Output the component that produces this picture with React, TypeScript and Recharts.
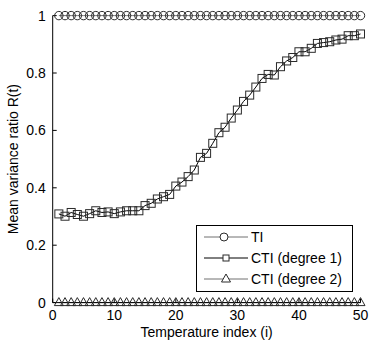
import { LineChart, Line, XAxis, YAxis, Legend } from 'recharts'

const index = Array.from({ length: 50 }, (_, k) => k + 1)
const tiValues = index.map(() => 1)
const cti1Values = [
  0.309, 0.301, 0.314, 0.307, 0.301, 0.310, 0.320, 0.314, 0.316, 0.310,
  0.316, 0.320, 0.320, 0.320, 0.338, 0.346, 0.361, 0.369, 0.377, 0.406,
  0.420, 0.439, 0.462, 0.506, 0.520, 0.555, 0.592, 0.611, 0.643, 0.671,
  0.701, 0.723, 0.751, 0.781, 0.795, 0.793, 0.822, 0.842, 0.854, 0.874,
  0.874, 0.886, 0.903, 0.906, 0.909, 0.915, 0.918, 0.930, 0.930, 0.936,
]
const cti2Values = index.map(() => 0)
const xTicks = [0, 10, 20, 30, 40, 50]
const yTicks = [0, 0.2, 0.4, 0.6, 0.8, 1]

const data = index.map((i, k) => ({
  i,
  ti: tiValues[k],
  cti1: cti1Values[k],
  cti2: cti2Values[k],
}))

const FONT = '"Liberation Sans", Arial, sans-serif'
const MARK = '#2a2a2a'

function circleDot(props: any) {
  const { cx, cy, index: k } = props
  return <circle key={`c-${k}`} cx={cx} cy={cy} r={4.2} fill="none" stroke={MARK} strokeWidth={1} />
}

function squareDot(props: any) {
  const { cx, cy, index: k } = props
  return <rect key={`s-${k}`} x={cx - 4} y={cy - 4} width={8} height={8} fill="none" stroke={MARK} strokeWidth={1} />
}

function triangleDot(props: any) {
  const { cx, cy, index: k } = props
  return (
    <polygon
      key={`t-${k}`}
      points={`${cx},${cy - 5} ${cx - 4.5},${cy + 3} ${cx + 4.5},${cy + 3}`}
      fill="none"
      stroke={MARK}
      strokeWidth={1}
    />
  )
}

// y label drawn by hand so it stays centred on the plot
function YLabel(props: any) {
  const { viewBox } = props
  const cx = 13
  const cy = viewBox.y + viewBox.height / 2
  return (
    <text x={cx} y={cy} transform={`rotate(-90, ${cx}, ${cy})`} textAnchor="middle" dominantBaseline="central" fill="#000" fontSize={14} fontFamily={FONT}>
      Mean variance ratio R(t)
    </text>
  )
}

const legendRows = [
  { label: 'TI', color: '#707070', mark: 'circle' },
  { label: 'CTI (degree 1)', color: '#000', mark: 'square' },
  { label: 'CTI (degree 2)', color: '#707070', mark: 'triangle' },
]

function PlotLegend() {
  return (
    <div style={{ width: 157, height: 67, border: '1px solid #000', background: '#fff', boxSizing: 'border-box', fontFamily: FONT, fontSize: 14 }}>
      {legendRows.map((row, k) => (
        <div key={row.label} style={{ position: 'absolute', left: 0, top: 2 + k * 21, height: 20, display: 'flex', alignItems: 'center' }}>
          <svg width={55} height={20}>
            <line x1={8} y1={10} x2={52} y2={10} stroke={row.color} strokeWidth={1} />
            {row.mark === 'circle' && <circle cx={28} cy={10} r={4} fill="#fff" stroke={MARK} />}
            {row.mark === 'square' && <rect x={27} y={7} width={6} height={6} fill="#fff" stroke={MARK} />}
            {row.mark === 'triangle' && <polygon points="30,5 25.5,13 34.5,13" fill="#fff" stroke={MARK} />}
          </svg>
          <span style={{ color: '#000' }}>{row.label}</span>
        </div>
      ))}
    </div>
  )
}

export default function App() {
  return (
    <div style={{ position: 'absolute', left: 0, top: 0, background: '#fff' }}>
      <LineChart width={374} height={342} data={data} margin={{ top: 15.6, right: 13.5, left: 0, bottom: 0 }}>
        <XAxis
          dataKey="i"
          type="number"
          domain={[0, 50]}
          ticks={xTicks}
          height={39.4}
          stroke="#000"
          tickSize={-4}
          tickMargin={11.4}
          tick={{ fill: '#000', fontSize: 14, fontFamily: FONT }}
          label={{ value: 'Temperature index (i)', position: 'insideBottom', offset: 5, fill: '#000', fontSize: 14, fontFamily: FONT }}
        />
        <XAxis
          xAxisId="top"
          orientation="top"
          dataKey="i"
          type="number"
          domain={[0, 50]}
          ticks={xTicks}
          height={0}
          stroke="#000"
          tickSize={-4}
          tick={false}
        />
        <YAxis
          type="number"
          domain={[0, 1]}
          ticks={yTicks}
          width={52.7}
          stroke="#000"
          tickSize={-4}
          tickMargin={11}
          tick={{ fill: '#000', fontSize: 14, fontFamily: FONT }}
          label={<YLabel />}
        />
        <YAxis
          yAxisId="right"
          orientation="right"
          type="number"
          domain={[0, 1]}
          ticks={yTicks}
          width={0}
          stroke="#000"
          tickSize={-4}
          tick={false}
        />
        <Line dataKey="ti" stroke="#707070" strokeWidth={1} dot={circleDot} isAnimationActive={false} />
        <Line dataKey="cti1" stroke="#000" strokeWidth={1} dot={squareDot} isAnimationActive={false} />
        <Line dataKey="cti2" stroke="#707070" strokeWidth={1} dot={triangleDot} isAnimationActive={false} />
        <Legend
          layout="vertical"
          align="center"
          verticalAlign="middle"
          wrapperStyle={{ left: 196, top: 225, width: 157, height: 67 }}
          content={() => <PlotLegend />}
        />
      </LineChart>
    </div>
  )
}
